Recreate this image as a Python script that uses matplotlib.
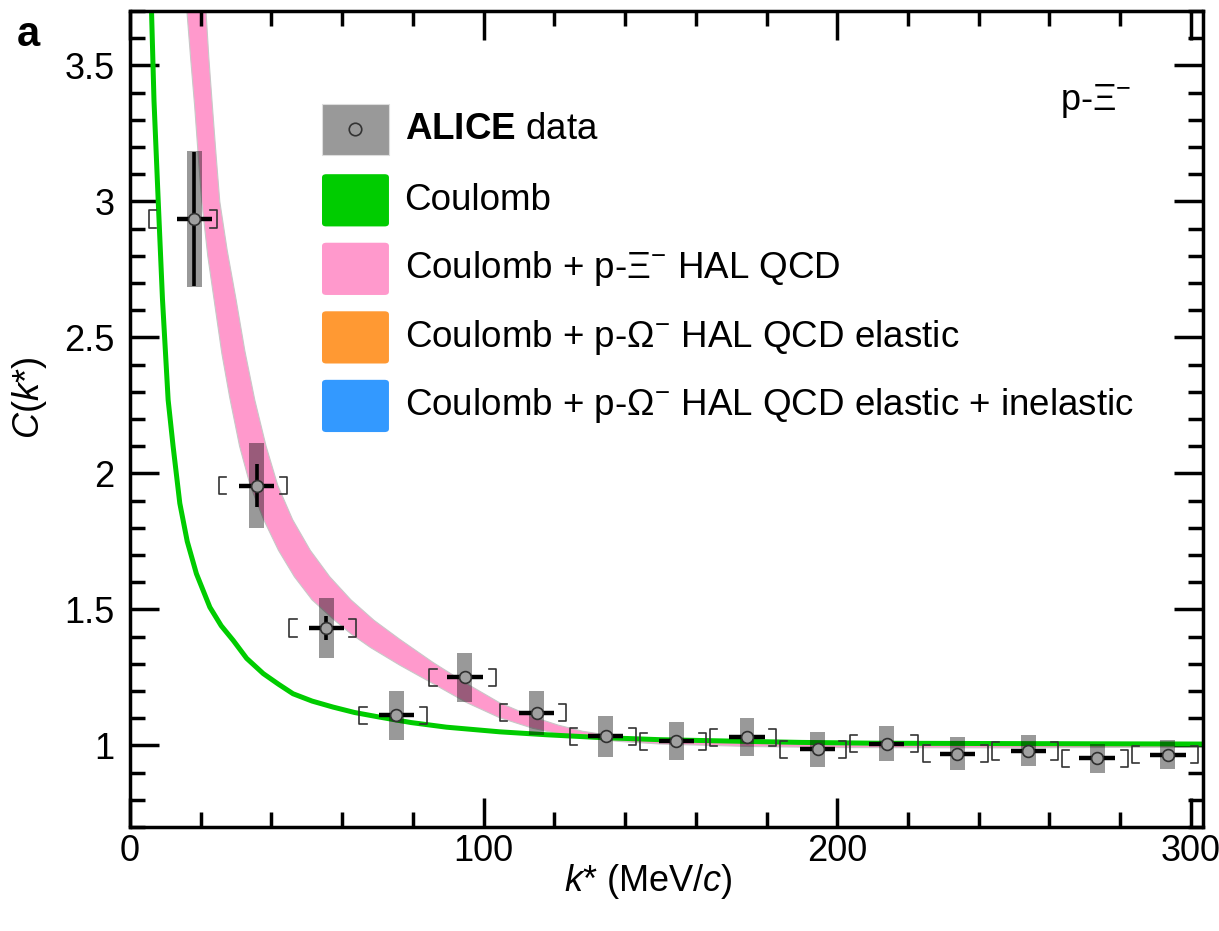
import numpy as np
import matplotlib
matplotlib.use("Agg")
import matplotlib.pyplot as plt
from matplotlib.patches import FancyBboxPatch
from matplotlib.ticker import MultipleLocator, FormatStrFormatter

plt.rcParams['font.family'] = ['Liberation Sans', 'DejaVu Sans']
plt.rcParams['mathtext.fontset'] = 'custom'
plt.rcParams['mathtext.rm'] = 'Liberation Sans'
plt.rcParams['mathtext.it'] = 'Liberation Sans:italic'
plt.rcParams['mathtext.bf'] = 'Liberation Sans:bold'

# --- data ---
k_data = [18.2, 35.8, 55.5, 75.3, 94.7, 115.0, 134.5, 154.5, 174.5, 194.5, 214.0, 234.0, 254.0, 273.5, 293.5]
c_data = [2.935, 1.955, 1.432, 1.110, 1.250, 1.120, 1.033, 1.015, 1.030, 0.985, 1.007, 0.970, 0.980, 0.952, 0.966]
c_stat = [0.245, 0.080, 0.045, 0.020, 0.020, 0.018, 0.015, 0.015, 0.015, 0.015, 0.015, 0.015, 0.015, 0.015, 0.015]
c_syst = [0.250, 0.155, 0.110, 0.090, 0.090, 0.080, 0.075, 0.070, 0.070, 0.065, 0.065, 0.060, 0.057, 0.055, 0.053]
k_err = 5.0
bin_lo = [5.5, 25.3, 45.1, 64.9, 84.7, 104.5, 124.3, 144.1, 163.9, 183.7, 203.5, 224.2, 243.8, 263.6, 283.4]
bin_hi = [24.7, 44.3, 64.0, 84.0, 103.6, 123.4, 143.2, 163.0, 182.8, 202.6, 222.9, 242.6, 262.4, 282.2, 302.0]

# Coulomb curve
coul_k = [6.1, 6.8, 8.0, 9.2, 10.8, 12.2, 14.1, 16.2, 18.8, 22.6, 25.8, 29.2, 33.0, 37.7, 42.0, 46.1,
          51.5, 57.4, 63.5, 70.6, 79.5, 89.5, 104.5, 118.0, 132.8, 150.0, 169.5, 190.0, 211.9, 240.0,
          270.0, 303.4]
coul_c = [3.70, 3.37, 3.00, 2.64, 2.27, 2.10, 1.89, 1.75, 1.631, 1.508, 1.44, 1.386, 1.32, 1.264, 1.225,
          1.19, 1.163, 1.141, 1.121, 1.104, 1.084, 1.067, 1.050, 1.039, 1.029, 1.021, 1.016, 1.011, 1.008,
          1.007, 1.006, 1.005]

# Coulomb + p-Xi HAL QCD band edges
hal_lo_k = [16.1, 17.2, 18.3, 19.3, 20.3, 22.0, 24.0, 26.0, 28.2, 31.0, 34.0, 37.8, 42.0, 46.5, 51.5,
            57.4, 62.5, 68.0, 76.3, 85.7, 95.1, 104.5, 113.9, 121.0, 128.0, 138.0, 150.0, 175.0, 200.0,
            250.0, 303.4]
hal_lo_c = [3.70, 3.52, 3.35, 3.17, 3.00, 2.80, 2.62, 2.44, 2.28, 2.10, 1.956, 1.83, 1.717, 1.62, 1.535,
            1.465, 1.41, 1.36, 1.295, 1.227, 1.158, 1.102, 1.063, 1.043, 1.028, 1.015, 1.005, 0.996, 0.992,
            0.991, 0.994]
hal_hi_k = [21.5, 22.3, 23.2, 24.3, 25.4, 27.5, 30.0, 32.5, 35.3, 38.5, 41.8, 46.0, 51.0, 56.5, 62.5,
            69.0, 76.3, 85.7, 95.1, 104.5, 113.9, 121.0, 128.0, 138.0, 150.0, 175.0, 200.0, 250.0, 303.4]
hal_hi_c = [3.70, 3.53, 3.37, 3.18, 3.00, 2.82, 2.64, 2.45, 2.27, 2.10, 1.956, 1.83, 1.717, 1.62, 1.535,
            1.46, 1.39, 1.305, 1.228, 1.157, 1.105, 1.075, 1.052, 1.032, 1.019, 1.008, 1.002, 1.000, 1.000]

legend_labels = [r"$\bf{ALICE}$ data", "Coulomb", r"Coulomb + p-Ξ$^{-}$ HAL QCD",
                 r"Coulomb + p-Ω$^{-}$ HAL QCD elastic", r"Coulomb + p-Ω$^{-}$ HAL QCD elastic + inelastic"]
legend_colors = ['#999999', '#00cc00', '#ff99cc', '#ff9933', '#3399ff']

# --- figure ---
fig = plt.figure(figsize=(12.19, 9.31), dpi=100)
ax = fig.add_axes([0.1066, 0.1117, 0.8802, 0.8765])

ax.fill(np.r_[hal_lo_k, hal_hi_k[::-1]], np.r_[hal_lo_c, hal_hi_c[::-1]],
        facecolor='#ff99cc', edgecolor='#c8c8c8', lw=0.8, joinstyle='round', zorder=1)
ax.plot(coul_k, coul_c, color='#00cc00', lw=3.6, solid_joinstyle='round', zorder=2)

k = np.array(k_data)
c = np.array(c_data)
syst = np.array(c_syst)
ax.bar(k, 2 * syst, bottom=c - syst, width=4.2, color='black', alpha=0.4, lw=0, zorder=3)

# bin-edge brackets
h, arm = 0.032, 2.0
for lo, hi, cy in zip(bin_lo, bin_hi, c_data):
    ax.plot([lo + arm, lo, lo, lo + arm], [cy - h, cy - h, cy + h, cy + h], color='#333333', lw=1.2, zorder=3)
    ax.plot([hi - arm, hi, hi, hi - arm], [cy - h, cy - h, cy + h, cy + h], color='#333333', lw=1.2, zorder=3)

ax.errorbar(k, c, yerr=c_stat, fmt='none', ecolor='black', elinewidth=2.6, capsize=0, zorder=4)
ax.errorbar(k, c, xerr=k_err, fmt='none', ecolor='black', elinewidth=3.2, capsize=0, zorder=4)
ax.plot(k, c, 'o', ms=8.5, mfc='#a0a0a0', mec='#303030', mew=1.2, zorder=5)

ax.set_xlim(0, 303.4)
ax.set_ylim(0.7, 3.7)
ax.xaxis.set_major_locator(MultipleLocator(100))
ax.xaxis.set_minor_locator(MultipleLocator(20))
ax.yaxis.set_major_locator(MultipleLocator(0.5))
ax.yaxis.set_minor_locator(MultipleLocator(0.1))
ax.yaxis.set_major_formatter(FormatStrFormatter('%g'))
ax.tick_params(which='both', direction='in', top=True, right=True, width=2.5, labelsize=26)
ax.tick_params(which='major', length=21)
ax.tick_params(which='minor', length=11)
ax.tick_params(axis='y', pad=11)
ax.tick_params(axis='x', pad=5)
for sp in ax.spines.values():
    sp.set_linewidth(2.5)

ax.set_xlabel(r"$k$* (MeV/$c$)", fontsize=26)
ax.set_ylabel(r"$C$($k$*)", fontsize=26)
ax.xaxis.set_label_coords(0.483, -0.043)
ax.yaxis.set_label_coords(-0.075, 0.526)

# legend drawn by hand
rows_y = [0.855, 0.768, 0.684, 0.600, 0.516]
for i, (lab, col) in enumerate(zip(legend_labels, legend_colors)):
    y = rows_y[i]
    if i == 0:
        ax.add_patch(FancyBboxPatch((0.179, y - 0.031), 0.0624, 0.062, boxstyle='square,pad=0',
                                    transform=ax.transAxes, fc=col, ec='#dddddd', lw=0.8, zorder=6))
        ax.plot([0.179 + 0.0312], [y], 'o', ms=9, mfc='none', mec='#333333', mew=1.2,
                transform=ax.transAxes, zorder=7, clip_on=False)
    else:
        ax.add_patch(FancyBboxPatch((0.179, y - 0.032), 0.0624, 0.064,
                                    boxstyle='round,pad=0,rounding_size=0.004',
                                    transform=ax.transAxes, fc=col, ec='none', zorder=6))
    ax.text(0.256, y, lab, transform=ax.transAxes, fontsize=26.5, va='center', ha='left', zorder=7)

ax.text(0.867, 0.89, r"p-Ξ$^{-}$", transform=ax.transAxes, fontsize=26, va='center', ha='left')
fig.text(0.014, 0.962, "a", fontsize=30, fontweight='bold', va='center', ha='left')

fig.savefig("out.png", dpi=100)
